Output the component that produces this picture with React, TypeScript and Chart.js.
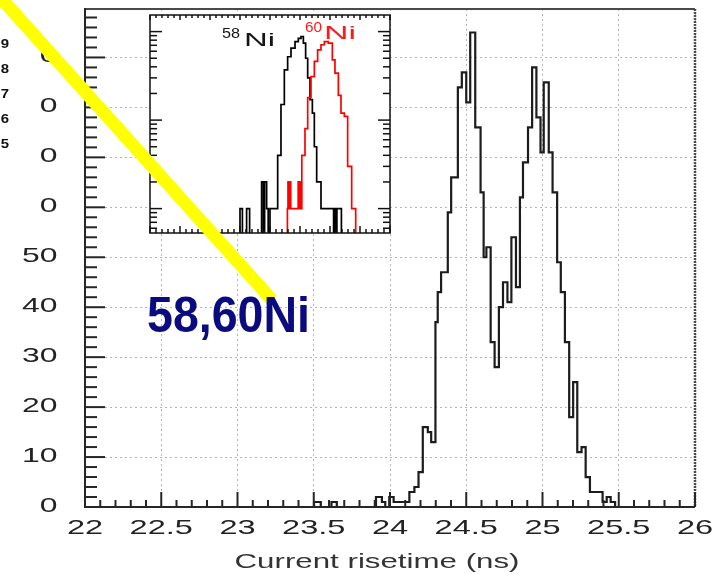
import React, { useEffect, useRef } from "react";
import { Chart, registerables } from "chart.js";
Chart.register(...registerables);

// ---------------- data ----------------
const xMin = 22;
const xMax = 26;
const mainYMin = 0;
const mainYMax = 99.7;
const xTickStep = 0.5;
const yTickStep = 10;
const xAxisTitle = "Current risetime (ns)";
const annotationText = "58,60Ni";
const sideDigits = ["9", "8", "7", "6", "5"];

// main histogram (sum of both isotopes): segment left edges (ns) + final edge, and counts
const mainEdges = [
  22.0, 23.502, 23.546, 23.616, 23.651, 23.908, 23.947, 23.969, 23.995, 24.024,
  24.127, 24.16, 24.187, 24.215, 24.248, 24.27, 24.298, 24.313, 24.335, 24.379,
  24.401, 24.445, 24.471, 24.5, 24.526, 24.559, 24.594, 24.614, 24.632, 24.66,
  24.686, 24.714, 24.741, 24.77, 24.796, 24.826, 24.852, 24.872, 24.905, 24.932,
  24.96, 24.987, 25.008, 25.041, 25.066, 25.096, 25.12, 25.147, 25.175, 25.201,
  25.228, 25.256, 25.283, 25.311, 25.394, 25.421, 25.447, 25.476, 26.0,
];
const mainCounts = [
  0, 1, 0, 1, 0, 2, 1, 0, 2, 1,
  3, 4, 7, 16, 15, 13, 37, 43, 47, 59,
  66, 84, 87, 81, 95, 76, 63, 50, 52, 33,
  28, 40, 45, 41, 54, 44, 62, 69, 76, 88,
  78, 71, 85, 71, 63, 49, 43, 33, 18, 25,
  11, 12, 6, 3, 1, 2, 1, 0,
];

// inset (log scale): 58Ni (black) and 60Ni (red)
const insetYMin = 0.53;
const insetYMax = 154;
const ni58Edges = [
  22.0, 23.5, 23.54, 23.61, 23.66, 23.86, 23.89, 23.91, 23.944, 23.97,
  24.0, 24.128, 24.183, 24.239, 24.294, 24.35, 24.417, 24.472, 24.517, 24.556,
  24.594, 24.628, 24.667, 24.706, 24.739, 24.778, 24.85, 25.06, 25.075, 25.1,
  25.115, 25.19, 26.0,
];
const ni58Counts = [
  0, 1, 0, 1, 0, 2, 0, 2, 1, 0,
  1, 4, 15, 37, 52, 65, 77, 84, 88, 74,
  50, 30, 17, 12, 5, 2, 1, 0, 1, 0,
  1, 0,
];
const ni60Edges = [
  22.0, 24.29, 24.3, 24.315, 24.325, 24.345, 24.47, 24.485, 24.5, 24.515,
  24.53, 24.583, 24.628, 24.683, 24.739, 24.794, 24.85, 24.906, 24.972, 25.039,
  25.083, 25.139, 25.183, 25.239, 25.294, 25.361, 25.428, 26.0,
];
const ni60Counts = [
  0, 1, 2, 1, 2, 1, 2, 1, 2, 1,
  4, 8, 18, 31, 46, 62, 71, 77, 74, 48,
  34, 19, 12, 11, 3, 1, 0,
];
const label58 = ["58", "Ni"];
const label60 = ["60", "Ni"];

// ---------------- helpers ----------------
const FONT = "'Liberation Sans', Arial, Helvetica, sans-serif";

function stepPoints(edges: number[], counts: number[], zero: number) {
  return edges.map((e, i) => ({
    x: e,
    y: i < counts.length && counts[i] > 0 ? counts[i] : zero,
  }));
}

type TextOpts = {
  font: string;
  color: string;
  align?: "left" | "center" | "right";
  baseline?: CanvasTextBaseline;
  sx?: number;
  width?: number;
};

function drawText(ctx: CanvasRenderingContext2D, text: string, x: number, y: number, o: TextOpts) {
  ctx.save();
  ctx.font = o.font;
  ctx.fillStyle = o.color;
  ctx.textAlign = "left";
  ctx.textBaseline = o.baseline || "middle";
  const nat = ctx.measureText(text).width;
  const sx = o.width ? o.width / nat : o.sx ?? 1;
  const w = nat * sx;
  const left = o.align === "center" ? x - w / 2 : o.align === "right" ? x - w : x;
  ctx.translate(left, y);
  ctx.scale(sx, 1);
  ctx.fillText(text, 0, 0);
  ctx.restore();
}

function seg(ctx: CanvasRenderingContext2D, x1: number, y1: number, x2: number, y2: number) {
  ctx.beginPath();
  ctx.moveTo(x1, y1);
  ctx.lineTo(x2, y2);
  ctx.stroke();
}

const fmt = (v: number) => String(Math.round(v * 10) / 10);

// ---------------- plugins ----------------
const mainDecor = {
  id: "mainDecor",
  afterDraw(chart: any) {
    const { ctx, chartArea: a, scales } = chart;
    const x = scales.x;
    const y = scales.y;
    ctx.save();
    // top frame
    ctx.strokeStyle = "#4a4a4a";
    ctx.lineWidth = 2;
    seg(ctx, a.left, a.top, a.right, a.top);
    // right frame (dotted look)
    ctx.setLineDash([2, 1]);
    ctx.lineWidth = 2.5;
    seg(ctx, a.right, a.top, a.right, a.bottom);
    ctx.setLineDash([]);
    // axes
    ctx.strokeStyle = "#262626";
    ctx.lineWidth = 2;
    seg(ctx, a.left, a.top - 1, a.left, a.bottom + 1);
    seg(ctx, a.left - 1, a.bottom, a.right, a.bottom);
    // y ticks (every 2, major every 10)
    for (let i = 0; i * 2 <= mainYMax; i++) {
      const v = i * 2;
      const py = y.getPixelForValue(v);
      const len = v % 10 === 0 ? 20 : 12;
      seg(ctx, a.left, py, a.left + len, py);
    }
    // x ticks (every 0.1, major every 0.5)
    const nx = Math.round((xMax - xMin) / 0.1);
    for (let i = 0; i <= nx; i++) {
      const px = x.getPixelForValue(xMin + i * 0.1);
      const len = i % 5 === 0 ? 15 : 7;
      seg(ctx, px, a.bottom, px, a.bottom - len);
    }
    // tick labels
    y.ticks.forEach((t: any) => {
      drawText(ctx, fmt(t.value), 57.5, y.getPixelForValue(t.value) - 1, {
        font: `21px ${FONT}`, color: "#222", align: "right", sx: 1.52,
      });
    });
    x.ticks.forEach((t: any) => {
      drawText(ctx, fmt(t.value), x.getPixelForValue(t.value), 528, {
        font: `21px ${FONT}`, color: "#222", align: "center", sx: 1.55,
      });
    });
    // axis title
    drawText(ctx, xAxisTitle, 377, 568, {
      font: `21px ${FONT}`, color: "#333", align: "center", baseline: "alphabetic", width: 285,
    });
    // pasted-over region at the far left with stray digits
    ctx.fillStyle = "#fff";
    ctx.fillRect(0, 0, 41, 236);
    const ys = [44, 69, 94, 119, 144];
    sideDigits.forEach((d, i) => {
      drawText(ctx, d, 9, ys[i], { font: `bold 13px ${FONT}`, color: "#111", align: "right", sx: 1.15 });
    });
    ctx.restore();
  },
};

const insetBg = {
  id: "insetBg",
  beforeDraw(chart: any) {
    const { ctx, chartArea: a } = chart;
    ctx.save();
    ctx.fillStyle = "#fff";
    ctx.fillRect(a.left, a.top, a.right - a.left, a.bottom - a.top);
    ctx.restore();
  },
};

const insetDecor = {
  id: "insetDecor",
  afterDraw(chart: any) {
    const { ctx, chartArea: a, scales } = chart;
    const x = scales.x;
    const y = scales.y;
    ctx.save();
    ctx.strokeStyle = "#111";
    ctx.lineWidth = 1.5;
    ctx.strokeRect(a.left, a.top, a.right - a.left, a.bottom - a.top);
    // log ticks on both sides
    for (let k = -1; k <= 2; k++) {
      for (let m = 1; m <= 9; m++) {
        const v = m * Math.pow(10, k);
        if (v < insetYMin || v > insetYMax) continue;
        const py = y.getPixelForValue(v);
        const len = m === 1 ? 12 : 7;
        seg(ctx, a.left, py, a.left + len, py);
        seg(ctx, a.right, py, a.right - len, py);
      }
    }
    // x ticks top and bottom
    const nx = Math.round((xMax - xMin) / 0.1);
    for (let i = 0; i <= nx; i++) {
      const px = x.getPixelForValue(xMin + i * 0.1);
      const major = i % 5 === 0;
      seg(ctx, px, a.top, px, a.top + (major ? 5 : 3));
      seg(ctx, px, a.bottom, px, a.bottom - (major ? 7 : 4));
    }
    // isotope labels
    drawText(ctx, label58[0], 74, 25, { font: `14px ${FONT}`, color: "#151515", baseline: "alphabetic", width: 18 });
    drawText(ctx, label58[1], 96, 32.5, { font: `18px ${FONT}`, color: "#151515", baseline: "alphabetic", width: 31 });
    drawText(ctx, label60[0], 157, 19, { font: `14px ${FONT}`, color: "#ff1a1a", baseline: "alphabetic", width: 17 });
    drawText(ctx, label60[1], 176, 25.5, { font: `18px ${FONT}`, color: "#ff1a1a", baseline: "alphabetic", width: 32 });
    ctx.restore();
  },
};

// ---------------- component ----------------
export default function App() {
  const mainRef = useRef<HTMLCanvasElement>(null);
  const insetRef = useRef<HTMLCanvasElement>(null);
  const overRef = useRef<HTMLCanvasElement>(null);

  useEffect(() => {
    const main = new Chart(mainRef.current as HTMLCanvasElement, {
      type: "line",
      data: {
        datasets: [
          {
            data: stepPoints(mainEdges, mainCounts, 0),
            stepped: true,
            borderColor: "#1c1c1c",
            borderWidth: 2.2,
            pointRadius: 0,
            fill: false,
          },
        ],
      },
      options: {
        animation: false,
        responsive: false,
        devicePixelRatio: 1,
        events: [],
        layout: { padding: { left: 85, top: 9, right: 27, bottom: 67 } },
        plugins: { legend: { display: false }, tooltip: { enabled: false } },
        scales: {
          x: {
            type: "linear",
            min: xMin,
            max: xMax,
            ticks: { display: false, stepSize: xTickStep },
            grid: { color: "#b4b4b4", lineWidth: 1, drawTicks: false },
            border: { display: false, dash: [2, 3] },
          },
          y: {
            type: "linear",
            min: mainYMin,
            max: mainYMax,
            ticks: { display: false, stepSize: yTickStep, includeBounds: false },
            grid: { color: "#b4b4b4", lineWidth: 1, drawTicks: false },
            border: { display: false, dash: [2, 3] },
          },
        },
      } as any,
      plugins: [mainDecor],
    });

    const inset = new Chart(insetRef.current as HTMLCanvasElement, {
      type: "line",
      data: {
        datasets: [
          {
            data: stepPoints(ni60Edges, ni60Counts, 0.1),
            stepped: true,
            borderColor: "#ff0000",
            borderWidth: 1.7,
            pointRadius: 0,
            fill: false,
          },
          {
            data: stepPoints(ni58Edges, ni58Counts, 0.1),
            stepped: true,
            borderColor: "#000000",
            borderWidth: 1.7,
            pointRadius: 0,
            fill: false,
          },
        ],
      },
      options: {
        animation: false,
        responsive: false,
        devicePixelRatio: 1,
        events: [],
        layout: { padding: 2 },
        plugins: { legend: { display: false }, tooltip: { enabled: false } },
        scales: {
          x: { type: "linear", min: xMin, max: xMax, display: false },
          y: { type: "logarithmic", min: insetYMin, max: insetYMax, display: false },
        },
      } as any,
      plugins: [insetBg, insetDecor],
    });

    const oc = overRef.current as HTMLCanvasElement;
    const ctx = oc.getContext("2d") as CanvasRenderingContext2D;
    ctx.clearRect(0, 0, oc.width, oc.height);
    ctx.save();
    ctx.strokeStyle = "#ffff00";
    ctx.lineWidth = 13;
    ctx.lineCap = "butt";
    ctx.beginPath();
    ctx.moveTo(-6, -9.7);
    ctx.lineTo(272, 300);
    ctx.stroke();
    ctx.restore();
    drawText(ctx, annotationText, 147, 332, {
      font: `bold 50px ${FONT}`, color: "#0b0b80", baseline: "alphabetic", width: 163,
    });

    return () => {
      main.destroy();
      inset.destroy();
    };
  }, []);

  return (
    <div style={{ position: "absolute", left: 0, top: 0, width: 722, height: 574, background: "#fff", overflow: "hidden" }}>
      <canvas ref={mainRef} width={722} height={574} style={{ position: "absolute", left: 0, top: 0 }} />
      <canvas ref={insetRef} width={244} height={222} style={{ position: "absolute", left: 148, top: 13 }} />
      <canvas ref={overRef} width={722} height={574} style={{ position: "absolute", left: 0, top: 0, pointerEvents: "none" }} />
    </div>
  );
}
